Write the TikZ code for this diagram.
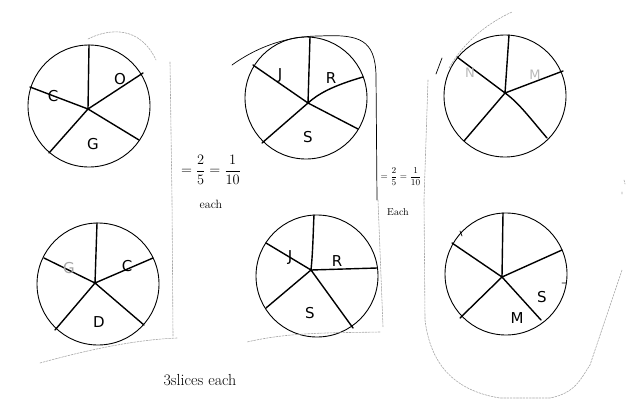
\documentclass[tikz,border=0pt]{standalone}
\usepackage{fontspec}
\setsansfont{DejaVu Sans}
\begin{document}
\begin{tikzpicture}[x=1pt,y=-1pt,line cap=round,line join=round,
  rim/.style={line width=0.9pt},
  spoke/.style={line width=1.4pt},
  lbl/.style={font=\sffamily\fontsize{15}{17}\selectfont},
  faintlbl/.style={font=\sffamily\fontsize{13}{15}\selectfont,text=gray!55},
  pen/.style={line width=0.7pt},
  faint/.style={gray!70,line width=0.6pt,dash pattern=on 2pt off 1.2pt},
  note/.style={font=\fontsize{14}{16}\selectfont}]
\useasboundingbox (0,0) rectangle (637,407);

% ---------- circle 1 (C O G)
\coordinate (h1) at (88,109);
\draw[rim] (89,106) circle[radius=61pt];
\draw[spoke] (h1) -- (89,45) (h1) -- (143,73) (h1) -- (30,87) (h1) -- (139,140) (h1) -- (49,153);
\node[lbl] (l1a) at (53,96) {C};
\node[lbl] (l1b) at (120,79) {O};
\node[lbl] (l1c) at (93,144) {G};

% ---------- circle 2 (J R S)
\coordinate (h2) at (308,103);
\draw[rim] (306,98) circle[radius=61pt];
\draw[spoke] (h2) -- (310,37) (h2) .. controls (318,94) and (332,86) .. (363,77)
  (h2) -- (253,65) (h2) -- (262,143) (h2) -- (358,129);
\node[lbl] (l2a) at (280,76) {J};
\node[lbl] (l2b) at (331,78) {R};
\node[lbl] (l2c) at (308,137) {S};

% ---------- circle 3 (faint labels)
\coordinate (h3) at (505,93);
\draw[rim] (505,96) circle[radius=61pt];
\draw[spoke] (h3) -- (509,35) (h3) -- (563,71) (h3) -- (457,57) (h3) -- (464,141)
  (h3) .. controls (518,102) and (530,118) .. (547,138);
\node[faintlbl] (l3a) at (470,73) {N};
\node[faintlbl] (l3b) at (535,75) {M};

% ---------- circle 4 (G C D)
\coordinate (h4) at (95,283);
\draw[rim] (98,284) circle[radius=61pt];
\draw[spoke] (h4) -- (97,223) (h4) -- (153,258) (h4) -- (44,258) (h4) -- (55,330) (h4) -- (144,325);
\node[lbl,text=gray!70] (l4a) at (69,268) {G};
\node[lbl] (l4b) at (127,266) {C};
\node[lbl] (l4c) at (99,322) {D};

% ---------- circle 5 (J R S)
\coordinate (h5) at (311,270);
\draw[rim] (317,276) circle[radius=61pt];
\draw[spoke] (h5) .. controls (313,250) and (313,235) .. (314,215) (h5) -- (377,268)
  (h5) -- (266,243) (h5) -- (266,308) (h5) -- (353,328);
\node[lbl] (l5a) at (290,258) {J};
\node[lbl] (l5b) at (337,261) {R};
\node[lbl] (l5c) at (310,313) {S};

% ---------- circle 6 (S M)
\coordinate (h6) at (502,277);
\draw[rim] (506,274) circle[radius=61pt];
\draw[spoke] (h6) -- (503,213) (h6) -- (562,250) (h6) -- (452,243) (h6) -- (460,318) (h6) -- (541,320);
\draw[pen] (460,231) -- (462,236) (562,283) -- (566,283);
\node[lbl] (l6a) at (542,297) {S};
\node[lbl] (l6b) at (517,318) {M};

% ---------- notes
\node[note,inner sep=0pt] (n1) at (211,170) {$\displaystyle =\frac{2}{5}=\frac{1}{10}$};
\node[font=\fontsize{12}{14}\selectfont] (n1e) at (211,204) {each};
\node[font=\fontsize{9}{11}\selectfont,inner sep=0pt] (n2) at (401,177) {$\displaystyle =\frac{2}{5}=\frac{1}{10}$};
\node[font=\fontsize{10}{12}\selectfont] (n2e) at (398,212) {Each};
\node[font=\fontsize{16}{18}\selectfont] (n3) at (200,380) {3slices each};

% ---------- enclosures
% left group
\draw[faint] (88,39) .. controls (110,28) and (140,26) .. (156,60);
\draw[faint] (170,62) -- (172,200) -- (173,336);
\draw[faint] (177,338) .. controls (130,340) and (80,352) .. (40,363);
% middle group
\draw[pen] (232,65) .. controls (260,45) and (290,36) .. (320,36)
  .. controls (360,34) and (375,40) .. (376,75) -- (377,200);
\draw[faint] (378,200) -- (383,327);
\draw[faint] (380,332) .. controls (330,333) and (290,332) .. (247,342);
% right group
\draw[pen] (436,74) -- (442,58);
\draw[faint] (449,68) .. controls (465,40) and (490,22) .. (512,12);
\draw[faint] (428,80) -- (424,200) -- (425,320)
  .. controls (430,360) and (450,390) .. (500,398) -- (550,398)
  .. controls (575,393) and (580,380) .. (590,365) -- (622,270);
\draw[faint] (624,180) -- (625,184) (622,192) -- (622,195);
\end{tikzpicture}
\end{document}
